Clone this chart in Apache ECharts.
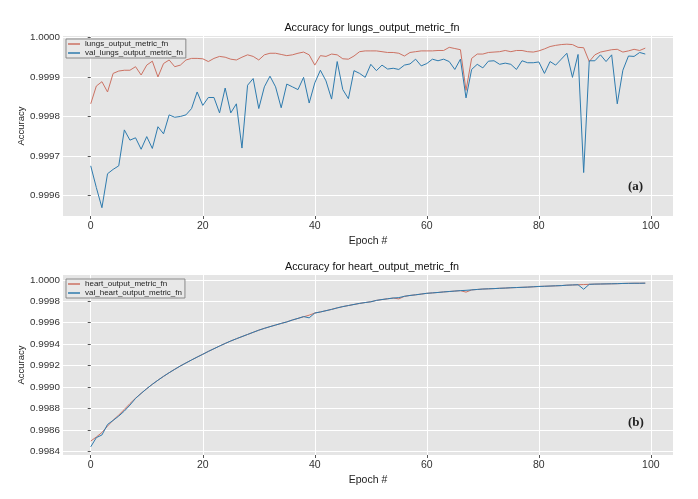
<!DOCTYPE html>
<html>
<head>
<meta charset="utf-8">
<script src="https://cdn.jsdelivr.net/npm/echarts@6.0.0/dist/echarts.min.js"></script>
<style>
  html, body { margin: 0; padding: 0; background: #fff; }
  #chart { width: 698px; height: 499px; }
</style>
</head>
<body>
<div id="chart"></div>
<script>
// values, one per epoch (0..99)
const lungsTrain = [
  0.999832, 0.999877, 0.999888, 0.999862, 0.999909, 0.999915, 0.999917, 0.999917, 0.999926, 0.999905,
  0.999930, 0.999940, 0.999900, 0.999934, 0.999943, 0.999926, 0.999930, 0.999943, 0.999947, 0.999947,
  0.999946, 0.999939, 0.999947, 0.999952, 0.999950, 0.999945, 0.999943, 0.999950, 0.999956, 0.999952,
  0.999943, 0.999956, 0.999960, 0.999960, 0.999957, 0.999954, 0.999956, 0.999960, 0.999963, 0.999956,
  0.999930, 0.999954, 0.999952, 0.999958, 0.999956, 0.999946, 0.999945, 0.999953, 0.999964, 0.999966,
  0.999966, 0.999966, 0.999964, 0.999962, 0.999962, 0.999960, 0.999953, 0.999962, 0.999964, 0.999966,
  0.999966, 0.999966, 0.999967, 0.999967, 0.999975, 0.999972, 0.999969, 0.999866, 0.999947, 0.999958,
  0.999958, 0.999962, 0.999963, 0.999964, 0.999967, 0.999964, 0.999967, 0.999967, 0.999964, 0.999963,
  0.999966, 0.999971, 0.999977, 0.999980, 0.999982, 0.999983, 0.999982, 0.999975, 0.999974, 0.999939,
  0.999956, 0.999963, 0.999966, 0.999969, 0.999970, 0.999963, 0.999966, 0.999970, 0.999967, 0.999973
];
const lungsVal = [
  0.999675, 0.999620, 0.999569, 0.999655, 0.999666, 0.999675, 0.999766, 0.999740, 0.999746, 0.999717,
  0.999749, 0.999719, 0.999774, 0.999756, 0.999804, 0.999798, 0.999800, 0.999804, 0.999820, 0.999862,
  0.999828, 0.999848, 0.999848, 0.999809, 0.999872, 0.999809, 0.999832, 0.999720, 0.999879, 0.999896,
  0.999820, 0.999875, 0.999902, 0.999875, 0.999822, 0.999882, 0.999875, 0.999868, 0.999899, 0.999834,
  0.999885, 0.999917, 0.999890, 0.999844, 0.999939, 0.999868, 0.999845, 0.999916, 0.999909, 0.999899,
  0.999932, 0.999916, 0.999930, 0.999920, 0.999922, 0.999919, 0.999930, 0.999933, 0.999945, 0.999928,
  0.999934, 0.999945, 0.999941, 0.999945, 0.999939, 0.999919, 0.999945, 0.999847, 0.999919, 0.999932,
  0.999923, 0.999940, 0.999941, 0.999932, 0.999935, 0.999932, 0.999919, 0.999941, 0.999936, 0.999936,
  0.999938, 0.999909, 0.999939, 0.999930, 0.999945, 0.999960, 0.999899, 0.999957, 0.999658, 0.999941,
  0.999941, 0.999956, 0.999939, 0.999956, 0.999832, 0.999917, 0.999953, 0.999952, 0.999962, 0.999958
];
const heartTrain = [
  0.998495, 0.998533, 0.998575, 0.998635, 0.998690, 0.998738, 0.998790, 0.998845, 0.998895, 0.998940,
  0.998984, 0.999025, 0.999063, 0.999099, 0.999133, 0.999165, 0.999196, 0.999224, 0.999252, 0.999279,
  0.999305, 0.999332, 0.999357, 0.999382, 0.999406, 0.999429, 0.999450, 0.999470, 0.999490, 0.999510,
  0.999530, 0.999547, 0.999563, 0.999578, 0.999593, 0.999607, 0.999625, 0.999640, 0.999655, 0.999670,
  0.999690, 0.999700, 0.999712, 0.999724, 0.999738, 0.999750, 0.999760, 0.999770, 0.999780, 0.999788,
  0.999795, 0.999808, 0.999816, 0.999823, 0.999830, 0.999822, 0.999846, 0.999854, 0.999860, 0.999867,
  0.999874, 0.999878, 0.999882, 0.999887, 0.999891, 0.999895, 0.999899, 0.999885, 0.999906, 0.999910,
  0.999914, 0.999916, 0.999918, 0.999921, 0.999923, 0.999926, 0.999928, 0.999930, 0.999932, 0.999935,
  0.999938, 0.999940, 0.999942, 0.999944, 0.999946, 0.999950, 0.999952, 0.999954, 0.999956, 0.999958,
  0.999960, 0.999961, 0.999962, 0.999963, 0.999964, 0.999966, 0.999967, 0.999968, 0.999968, 0.999969
];
const heartVal = [
  0.998441, 0.998527, 0.998552, 0.998650, 0.998688, 0.998728, 0.998775, 0.998831, 0.998893, 0.998940,
  0.998984, 0.999025, 0.999063, 0.999099, 0.999133, 0.999165, 0.999196, 0.999224, 0.999252, 0.999279,
  0.999305, 0.999332, 0.999357, 0.999382, 0.999406, 0.999429, 0.999450, 0.999470, 0.999490, 0.999510,
  0.999530, 0.999547, 0.999563, 0.999578, 0.999593, 0.999607, 0.999625, 0.999640, 0.999657, 0.999645,
  0.999690, 0.999700, 0.999712, 0.999724, 0.999738, 0.999750, 0.999760, 0.999770, 0.999780, 0.999788,
  0.999795, 0.999808, 0.999816, 0.999823, 0.999830, 0.999834, 0.999846, 0.999854, 0.999860, 0.999867,
  0.999874, 0.999878, 0.999882, 0.999887, 0.999891, 0.999895, 0.999899, 0.999902, 0.999906, 0.999910,
  0.999914, 0.999916, 0.999918, 0.999921, 0.999923, 0.999926, 0.999928, 0.999930, 0.999932, 0.999935,
  0.999938, 0.999940, 0.999942, 0.999944, 0.999946, 0.999950, 0.999952, 0.999954, 0.999912, 0.999958,
  0.999960, 0.999961, 0.999962, 0.999963, 0.999964, 0.999966, 0.999967, 0.999968, 0.999968, 0.999969
];
const epochTicks = [0, 20, 40, 60, 80, 100];
const lungsTicks = [0.9996, 0.9997, 0.9998, 0.9999, 1.0];
const heartTicks = [0.9984, 0.9986, 0.9988, 0.9990, 0.9992, 0.9994, 0.9996, 0.9998, 1.0];

const FONT = "'Liberation Sans', Arial, sans-serif";
const RED = '#cc7263';
const BLUE = '#2e7bae';

const pairs = arr => arr.map((v, i) => [i, v]);

function xAxisFor(gridIndex) {
  return {
    type: 'value', gridIndex: gridIndex,
    min: -4.95, max: 103.95,
    name: 'Epoch #', nameLocation: 'middle', nameGap: 20, nameMoveOverlap: false,
    nameTextStyle: { fontFamily: FONT, fontSize: 10.5, color: '#222' },
    axisLine: { show: false },
    axisTick: { show: true, length: 3, customValues: epochTicks, lineStyle: { color: '#555' } },
    axisLabel: { customValues: epochTicks, margin: 5, fontFamily: FONT, fontSize: 10.5, color: '#333' },
    splitLine: { show: true, lineStyle: { color: '#ffffff', width: 1 } }
  };
}

function yAxisFor(gridIndex, min, max, ticks) {
  return {
    type: 'value', gridIndex: gridIndex,
    min: min, max: max,
    name: 'Accuracy', nameLocation: 'middle', nameGap: 37, nameRotate: 90, nameMoveOverlap: false,
    nameTextStyle: { fontFamily: FONT, fontSize: 9.5, color: '#222' },
    axisLine: { show: false },
    axisTick: { show: true, length: 3, customValues: ticks, lineStyle: { color: '#555' } },
    axisLabel: {
      customValues: ticks, margin: 3, fontFamily: FONT, fontSize: 9.8, color: '#333',
      formatter: v => Number(v).toFixed(4)
    },
    splitLine: { show: true, lineStyle: { color: '#ffffff', width: 1 } }
  };
}

function legendFor(top, names) {
  return {
    data: names, orient: 'vertical', left: 66, top: top,
    itemWidth: 12, itemHeight: 1.5, itemGap: 1, icon: 'rect',
    padding: [1, 3, 1, 2],
    borderColor: '#8a8a8a', borderWidth: 1, backgroundColor: '#e8e8e8',
    textStyle: { fontFamily: FONT, fontSize: 8, color: '#222' }
  };
}

function lineSeries(name, data, color, xi, yi) {
  return {
    name: name, type: 'line', xAxisIndex: xi, yAxisIndex: yi,
    data: pairs(data), showSymbol: false, symbol: 'none',
    lineStyle: { color: color, width: 1 }, itemStyle: { color: color },
    animation: false
  };
}

const chart = echarts.init(document.getElementById('chart'), null, { renderer: 'canvas' });
chart.setOption({
  backgroundColor: '#ffffff',
  animation: false,
  title: [
    { text: 'Accuracy for lungs_output_metric_fn', left: 367, top: 18, textAlign: 'center',
      textStyle: { fontFamily: FONT, fontSize: 10.8, fontWeight: 'normal', color: '#111' } },
    { text: 'Accuracy for heart_output_metric_fn', left: 367, top: 257, textAlign: 'center',
      textStyle: { fontFamily: FONT, fontSize: 10.8, fontWeight: 'normal', color: '#111' } }
  ],
  grid: [
    { left: 63, right: 25, top: 36, height: 180, show: true, backgroundColor: '#e5e5e5', borderWidth: 0 },
    { left: 63, right: 25, top: 275, height: 180, show: true, backgroundColor: '#e5e5e5', borderWidth: 0 }
  ],
  legend: [
    legendFor(39, ['lungs_output_metric_fn', 'val_lungs_output_metric_fn']),
    legendFor(279, ['heart_output_metric_fn', 'val_heart_output_metric_fn'])
  ],
  xAxis: [xAxisFor(0), xAxisFor(1)],
  yAxis: [
    yAxisFor(0, 0.999548, 1.0000037, lungsTicks),
    yAxisFor(1, 0.998365, 1.000045, heartTicks)
  ],
  series: [
    lineSeries('lungs_output_metric_fn', lungsTrain, RED, 0, 0),
    lineSeries('val_lungs_output_metric_fn', lungsVal, BLUE, 0, 0),
    lineSeries('heart_output_metric_fn', heartTrain, RED, 1, 1),
    lineSeries('val_heart_output_metric_fn', heartVal, BLUE, 1, 1)
  ],
  graphic: [
    { type: 'text', left: 628, top: 180, style: { text: '(a)', font: 'bold 13px "Liberation Serif", serif', fill: '#222' } },
    { type: 'text', left: 628, top: 416, style: { text: '(b)', font: 'bold 13px "Liberation Serif", serif', fill: '#222' } }
  ]
});
</script>
</body>
</html>
